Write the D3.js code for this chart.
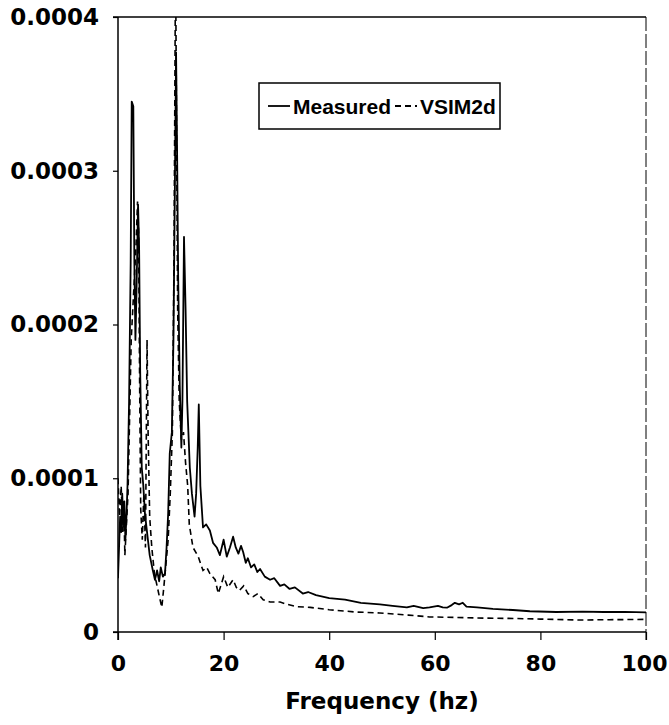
<!DOCTYPE html>
<html>
<head>
<meta charset="utf-8">
<title>Measured vs VSIM2d spectrum</title>
<style>
  body { margin: 0; background: #fff; }
  #chart { width: 669px; height: 725px; }
  text { font-weight: bold; fill: #000; }
</style>
<script src="https://cdnjs.cloudflare.com/ajax/libs/d3/7.8.5/d3.min.js"></script>
</head>
<body>
<div id="chart"></div>
<script>
// values
const measuredHz = [0, 0.2, 0.4, 0.6, 0.8, 1.0, 1.2, 1.4, 1.6, 1.8, 2.1, 2.4, 2.6, 2.9, 3.1, 3.3, 3.5, 3.8, 4.0, 4.2,
  4.5, 4.8, 5.1, 5.5, 6.0, 6.6, 7.0, 7.4, 7.8, 8.1, 8.5, 8.9, 9.2, 9.5, 9.8, 10.2, 10.5, 10.8, 11.0, 11.2,
  11.4, 11.7, 12.0, 12.2, 12.5, 12.8, 13.1, 13.6, 14.0, 14.5, 14.8, 15.1, 15.3, 15.6, 16.1, 16.7, 17.4, 18.0, 18.7, 19.3,
  20.0, 20.6, 21.2, 21.8, 22.3, 22.8, 23.3, 23.7, 24.2, 24.6, 25.2, 25.8, 26.4, 26.9, 27.8, 28.8, 29.6, 30.7, 31.5, 32.5,
  33.5, 35, 36, 37.5, 40, 43, 46, 49.6, 52, 54.7, 56, 57.8, 59, 60.6, 61.5, 62.3, 63.2, 63.8, 64.6, 65.3,
  66, 68, 71, 74.8, 78, 83, 88, 92, 96, 100];
const measuredAmp = [0.35e-4, 0.55e-4, 0.75e-4, 0.65e-4, 0.9e-4, 0.7e-4, 0.85e-4, 0.6e-4, 0.75e-4, 0.95e-4, 1.5e-4, 2.4e-4, 3.45e-4, 3.42e-4, 2.4e-4, 1.9e-4, 2.2e-4, 2.78e-4, 2.5e-4, 1.7e-4,
  1.07e-4, 0.95e-4, 0.77e-4, 0.65e-4, 0.5e-4, 0.4e-4, 0.34e-4, 0.4e-4, 0.33e-4, 0.42e-4, 0.36e-4, 0.38e-4, 0.55e-4, 0.77e-4, 1.16e-4, 1.3e-4, 1.9e-4, 3.0e-4, 3.77e-4, 3.1e-4,
  2.3e-4, 1.6e-4, 1.2e-4, 1.5e-4, 2.57e-4, 2.1e-4, 1.5e-4, 1.07e-4, 0.9e-4, 0.75e-4, 0.9e-4, 1.2e-4, 1.48e-4, 0.95e-4, 0.68e-4, 0.7e-4, 0.66e-4, 0.58e-4, 0.55e-4, 0.5e-4,
  0.6e-4, 0.49e-4, 0.55e-4, 0.62e-4, 0.55e-4, 0.51e-4, 0.56e-4, 0.52e-4, 0.45e-4, 0.48e-4, 0.42e-4, 0.44e-4, 0.39e-4, 0.41e-4, 0.36e-4, 0.34e-4, 0.35e-4, 0.3e-4, 0.31e-4, 0.28e-4,
  0.29e-4, 0.25e-4, 0.26e-4, 0.24e-4, 0.22e-4, 0.21e-4, 0.19e-4, 0.18e-4, 0.17e-4, 0.16e-4, 0.17e-4, 0.155e-4, 0.16e-4, 0.17e-4, 0.16e-4, 0.158e-4, 0.175e-4, 0.19e-4, 0.18e-4, 0.19e-4,
  0.165e-4, 0.16e-4, 0.15e-4, 0.143e-4, 0.135e-4, 0.13e-4, 0.132e-4, 0.13e-4, 0.131e-4, 0.128e-4];

const vsimHz = [0, 0.3, 0.6, 0.9, 1.1, 1.3, 1.6, 1.9, 2.2, 2.5, 2.8, 3.1, 3.4, 3.7, 3.9, 4.1, 4.3, 4.6, 4.9, 5.2,
  5.5, 5.7, 6.0, 6.4, 6.9, 7.4, 7.9, 8.3, 8.7, 9.1, 9.5, 9.9, 10.3, 10.6, 10.9, 11.1, 11.3, 11.6, 12.0, 12.4,
  12.8, 13.2, 13.5, 14.2, 15.2, 16.1, 16.8, 17.4, 18.4, 19.0, 20.0, 20.8, 21.8, 22.4, 23.0, 23.8, 24.6, 25.6, 26.5, 27.5,
  28.8, 30.7, 32, 33.9, 36.4, 40, 45, 49.6, 55, 59, 64, 68, 75, 80, 87.5, 93, 100];
const vsimAmp = [1.0e-4, 0.75e-4, 0.95e-4, 0.65e-4, 0.85e-4, 0.5e-4, 0.7e-4, 0.9e-4, 1.4e-4, 1.9e-4, 2.1e-4, 2.3e-4, 2.5e-4, 2.8e-4, 2.6e-4, 1.6e-4, 0.8e-4, 0.6e-4, 0.9e-4, 0.55e-4,
  1.9e-4, 1.3e-4, 0.75e-4, 0.55e-4, 0.38e-4, 0.3e-4, 0.22e-4, 0.16e-4, 0.3e-4, 0.45e-4, 0.6e-4, 0.9e-4, 1.3e-4, 2.4e-4, 4.4e-4, 3.2e-4, 2.1e-4, 1.5e-4, 1.25e-4, 1.3e-4,
  1.1e-4, 0.95e-4, 0.7e-4, 0.55e-4, 0.49e-4, 0.4e-4, 0.42e-4, 0.38e-4, 0.34e-4, 0.25e-4, 0.36e-4, 0.29e-4, 0.34e-4, 0.29e-4, 0.27e-4, 0.3e-4, 0.25e-4, 0.23e-4, 0.25e-4, 0.21e-4,
  0.195e-4, 0.195e-4, 0.18e-4, 0.165e-4, 0.16e-4, 0.145e-4, 0.13e-4, 0.124e-4, 0.11e-4, 0.098e-4, 0.095e-4, 0.091e-4, 0.088e-4, 0.084e-4, 0.078e-4, 0.08e-4, 0.082e-4];

const xTicks = [0, 20, 40, 60, 80, 100];
const yTicks = [0, 0.0001, 0.0002, 0.0003, 0.0004];
const yTickLabels = ["0", "0.0001", "0.0002", "0.0003", "0.0004"];
const seriesNames = ["Measured", "VSIM2d"];

const W = 669, H = 725;
const margin = { top: 17, right: 23, bottom: 93, left: 118 };
const width = W - margin.left - margin.right;
const height = H - margin.top - margin.bottom;
const axisFont = '"DejaVu Sans", sans-serif';
const legendFont = '"Liberation Sans", Arial, sans-serif';

const x = d3.scaleLinear().domain([0, 100]).range([0, width]);
const y = d3.scaleLinear().domain([0, 0.0004]).range([height, 0]);

const svg = d3.select('#chart').append('svg')
  .attr('width', W)
  .attr('height', H);

const g = svg.append('g')
  .attr('transform', `translate(${margin.left},${margin.top})`);

g.append('clipPath').attr('id', 'plot-clip')
  .append('rect').attr('width', width).attr('height', height);

// frame: top and right edges
g.append('line').attr('x1', -5).attr('x2', width).attr('y1', 0).attr('y2', 0)
  .attr('stroke', '#000').attr('stroke-width', 1.5);
g.append('line').attr('x1', width).attr('x2', width).attr('y1', 0).attr('y2', height + 8)
  .attr('stroke', '#000').attr('stroke-width', 1).attr('stroke-dasharray', '14,3');

// axes
const xAxis = d3.axisBottom(x).tickValues(xTicks).tickSize(8).tickPadding(15).tickFormat(d3.format('d'));
const yAxis = d3.axisLeft(y).tickValues(yTicks).tickSize(5).tickPadding(14)
  .tickFormat((d, i) => yTickLabels[i]);

const gx = g.append('g').attr('transform', `translate(0,${height})`).call(xAxis);
const gy = g.append('g').call(yAxis);

[gx, gy].forEach(a => {
  a.select('.domain').attr('stroke', '#000').attr('stroke-width', 1.5);
  a.selectAll('.tick line').attr('stroke', '#000').attr('stroke-width', 1.2);
  a.selectAll('.tick text').style('font-size', '23px').style('font-family', axisFont)
    .style('font-weight', 'bold').attr('fill', '#000');
});
gx.select('.domain').attr('d', `M-5,0H${width}`);
gy.select('.domain').attr('d', `M0,0V${height + 8}`);
gx.selectAll('.tick text').attr('dy', '0.71em').style('font-size', '22px')
  .attr('dx', d => d === 100 ? -2 : 0);

g.append('text')
  .attr('x', width / 2)
  .attr('y', height + 77)
  .attr('text-anchor', 'middle')
  .style('font-family', axisFont)
  .style('font-size', '23px')
  .text('Frequency (hz)');

// series
const line = d3.line().x(d => x(d[0])).y(d => y(d[1]));
const measured = measuredHz.map((f, i) => [f, measuredAmp[i]]);
const vsim = vsimHz.map((f, i) => [f, vsimAmp[i]]);

const plot = g.append('g').attr('clip-path', 'url(#plot-clip)');
plot.append('path').datum(vsim)
  .attr('fill', 'none').attr('stroke', '#000').attr('stroke-width', 1.6)
  .attr('stroke-dasharray', '6,4').attr('d', line);
plot.append('path').datum(measured)
  .attr('fill', 'none').attr('stroke', '#000').attr('stroke-width', 1.8)
  .attr('stroke-linejoin', 'round').attr('d', line);

// legend
const lg = g.append('g').attr('transform', 'translate(141,66)');
lg.append('rect').attr('width', 241).attr('height', 46)
  .attr('fill', '#fff').attr('stroke', '#000').attr('stroke-width', 1.5);
const items = lg.selectAll('.item').data(seriesNames).join('g')
  .attr('transform', (d, i) => `translate(${i === 0 ? 9 : 136},23)`);
items.append('line').attr('x1', 0).attr('x2', 22).attr('y1', 0).attr('y2', 0)
  .attr('stroke', '#000').attr('stroke-width', 1.8)
  .attr('stroke-dasharray', (d, i) => i === 0 ? null : '6,4');
items.append('text').attr('x', 25).attr('y', 0).attr('dy', '0.36em')
  .style('font-family', legendFont)
  .style('font-size', '21px').text(d => d);
</script>
</body>
</html>
